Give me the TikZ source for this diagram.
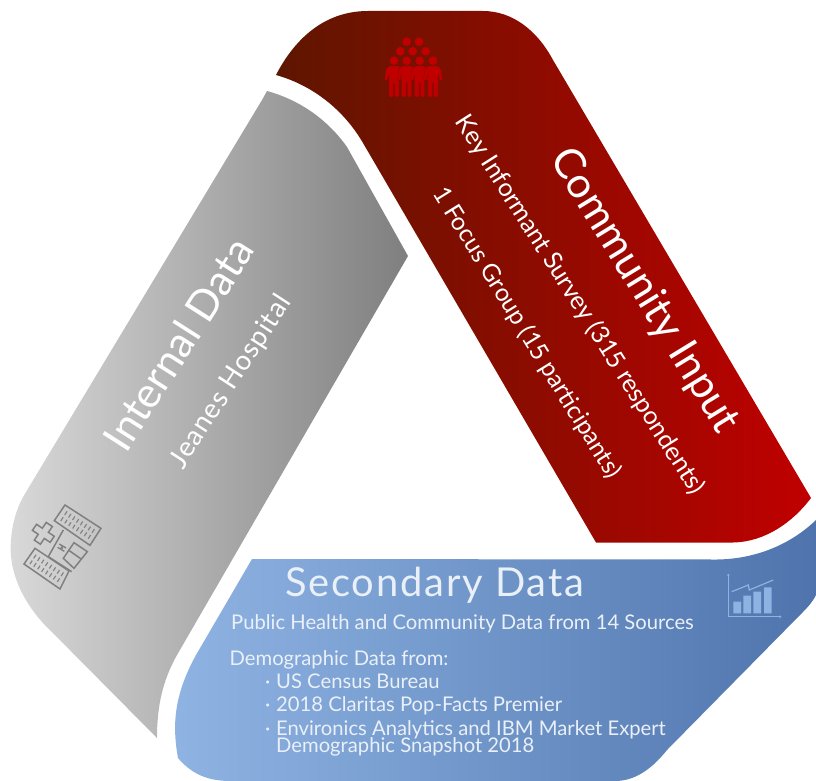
\documentclass[tikz,border=0pt]{standalone}
\usepackage{fontspec}
\setmainfont{Lato}
\newfontfamily\lat{Lato}
\newfontfamily\latsec[LetterSpace=4.6]{Lato}
\newfontfamily\latjh[LetterSpace=3.5]{Lato}
\definecolor{cicon}{HTML}{8DB3E2}
\definecolor{ricon}{HTML}{C00000}
\definecolor{rdark}{HTML}{5E1600}
\definecolor{rline}{HTML}{8A0A00}
\definecolor{gleft}{HTML}{D9D9D9}
\definecolor{gright}{HTML}{7F7F7F}
\definecolor{bleft}{HTML}{8FB4E3}
\definecolor{bright}{HTML}{4F74AD}
\definecolor{gicon}{HTML}{808080}
\definecolor{btext}{HTML}{EAF0F8}
\tikzset{
 x=1bp,y=-1bp,
 txt/.style={text=white,inner sep=0pt},
 big/.style={txt,font=\lat\fontsize{42.5}{45}\selectfont},
 sub/.style={txt,font=\lat\fontsize{25.2}{27}\selectfont},
 bluetxt/.style={text=btext,inner sep=0pt,anchor=base west,font=\lat\fontsize{20.3}{21}\selectfont},
 grayicon/.style={draw=gicon,line width=1.5bp,fill=none,line join=miter},
 tick/.style={draw=gicon,line width=1.1bp},
}
\begin{document}
\begin{tikzpicture}
\useasboundingbox (0,0) rectangle (816,781);
% red band
\path[left color=rdark,right color=ricon]
 (276,75) .. controls (293,42) and (322,11) .. (368,11)
 -- (483,11) .. controls (512,11) and (537,30) .. (553,60)
 -- (811,498) .. controls (793,522) and (765,542) .. (733,542.5)
 -- (596,542.5) -- (363,143) .. controls (345,112) and (315,86) .. (276,75) -- cycle;
% gray band
\path[left color=gleft,right color=gright]
 (267,91) .. controls (300,100) and (328,120) .. (347,147)
 -- (408,256) -- (177,655) .. controls (163,680) and (157,705) .. (157,738)
 -- (43,623) .. controls (22,600) and (8,570) .. (11,540)
 .. controls (12,525) and (16,510) .. (23,497) -- (262,100) -- cycle;
% blue band
\path[left color=bleft,right color=bright]
 (252,559) -- (717,559.5) .. controls (755,559) and (790,545) .. (816,520)
 -- (816,595) .. controls (812,603) and (806,609) .. (800,615)
 -- (667,750) .. controls (655,765) and (638,781) .. (615,781)
 -- (230,781) .. controls (205,781) and (190,772) .. (178,758)
 .. controls (172,725) and (174,695) .. (196,655) -- cycle;
% people icon
\foreach \hx/\hy in {406.7/41.7,419/41.7,400.3/51.3,412.7/51.3,425.7/51.3}
  \fill[ricon] (\hx,\hy) circle (4.3);
\foreach \q in {394,406.7,419.7,433}{
  \fill[ricon] (\q,60.7) circle (4.3);
  \filldraw[fill=ricon,draw=rline,line width=.3bp,rounded corners=1.5] (\q-9.5,81) -- (\q-8,69) -- (\q-5,66) -- (\q+5,66) -- (\q+8,69) -- (\q+9.5,81) -- (\q+7,81) -- (\q+5,73) -- (\q+5,97) -- (\q+.6,97) -- (\q+.6,83) -- (\q-.6,83) -- (\q-.6,97) -- (\q-5,97) -- (\q-5,73) -- (\q-7,81) -- cycle;
}
% hospital icon (coordinates of a 3x crop)
\begin{scope}[shift={(0,440)},x=.3333bp,y=-.3333bp]
 \draw[grayicon] (195,195) -- (303,265) -- (270,316) -- (163,242) -- cycle;
 \draw[grayicon] (105,325) -- (207,393) -- (180,447) -- (72,372) -- cycle;
 \foreach \cx/\cy in {233/255,140/385}{
  \begin{scope}[shift={(\cx,\cy)},rotate=-33]
   \foreach \i in {-49,-35,...,49}{
    \draw[tick] (\i,-17) -- (\i,-4);
    \draw[tick] (\i,4) -- (\i,17);
   }
  \end{scope}
 }
 \draw[grayicon] (190,270) -- (145,350) -- (215,395);
 \draw[grayicon] (222,308) -- (262,335) -- (222,385) -- (190,355) -- cycle;
 \draw[grayicon] (205,330) -- (245,358);
 \draw[gicon,line width=1.4bp] (178,312) -- (198,324) (173,322) -- (193,334) (183,320) -- (188,326);
 \begin{scope}[shift={(130,280)},rotate=-34]
  \draw[grayicon] (-32,-11) -- (-11,-11) -- (-11,-32) -- (11,-32) -- (11,-11) -- (32,-11) -- (32,11) -- (11,11) -- (11,32) -- (-11,32) -- (-11,11) -- (-32,11) -- cycle;
 \end{scope}
\end{scope}
% chart icon
\draw[cicon,line width=1.2bp] (728.3,575) -- (728.3,616.7) -- (780,616.7);
\fill[cicon] (728.3,575) circle (1.3) (780,616.7) circle (1.3);
\draw[cicon,line width=1.2bp] (731.7,591.7) -- (748.3,585) -- (749.3,590) -- (773.3,580);
\fill[cicon] (733.3,601.7) rectangle (741,613.3) (743.3,595.7) rectangle (751,613.3) (753.3,591.7) rectangle (761,613.3) (764,587.3) rectangle (771.7,613.3);
% texts
\node[big,rotate=-58.5] (ci) at (644,291) {Community Input};
\node[sub,rotate=-57.6] (ki) at (580,305) {Key Informant Survey (315 respondents)};
\node[sub,font=\lat\fontsize{24.6}{27}\selectfont,rotate=-58.3] (fg) at (527,333) {1 Focus Group (15 participants)};
\node[big,rotate=57.5] (id) at (178,344) {Internal Data};
\node[txt,font=\latjh\fontsize{27.5}{30}\selectfont,rotate=57] (jh) at (231,382) {Jeanes Hospital};
\node[txt,anchor=base west,font=\latsec\fontsize{40}{42}\selectfont,text=btext] (sd) at (285,596) {Secondary Data};
\node[bluetxt] (t1) at (231,629) {Public Health and Community Data from 14 Sources};
\node[bluetxt] (t2) at (229.5,665) {Demographic Data from:};
\node[bluetxt] (b3) at (265,688) {·};
\node[bluetxt] (t3) at (276,688) {US Census Bureau};
\node[bluetxt] (b4) at (265,711) {·};
\node[bluetxt] (t4) at (276,711) {2018 Claritas Pop-Facts Premier};
\node[bluetxt] (b5) at (265,735) {·};
\node[bluetxt] (t5) at (276,735) {Environics Analytics and IBM Market Expert};
\node[bluetxt] (t6) at (276,752) {Demographic Snapshot 2018};
\end{tikzpicture}
\end{document}
